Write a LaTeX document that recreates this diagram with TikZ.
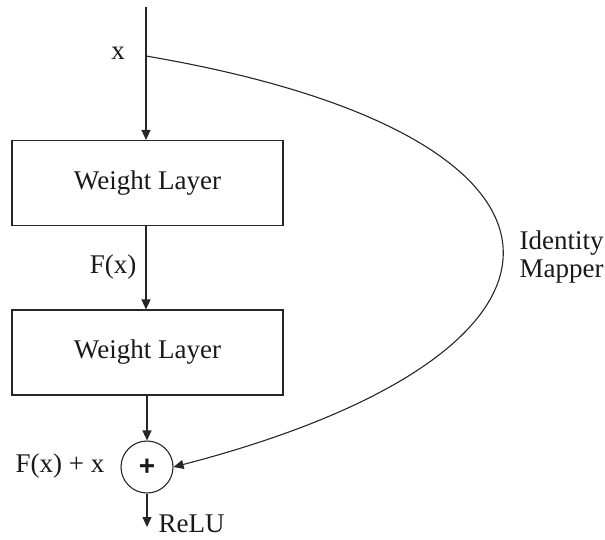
\documentclass[tikz,border=0pt]{standalone}
\usepackage{fontspec}
\setmainfont{Liberation Serif}
\newfontfamily\plusfont{Liberation Sans}
\usetikzlibrary{arrows.meta}
\begin{document}
\begin{tikzpicture}[x=1pt,y=-1pt,
  line width=1.1pt,
  every node/.style={font=\fontsize{27}{32}\selectfont, text=black!90},
  wire/.style={draw=black!85, -{Triangle[length=10pt,width=9pt]}},
  layer/.style={draw=black!85, minimum width=271pt, minimum height=85pt, inner sep=0pt},
  adder/.style={draw=black!85, circle, minimum size=52pt, inner sep=0pt},
  lbl/.style={inner sep=0pt}]
  \useasboundingbox (0,0) rectangle (605,539);

  % input and the two weight layers
  \coordinate (in) at (146,7);
  \coordinate (tap) at (146,56);
  \node[layer] (w1) at (147.5,183) {Weight Layer};
  \node[layer] (w2) at (147.5,352.5) {Weight Layer};
  \node[adder] (sum) at (147,467) {\plusfont\bfseries\fontsize{28}{30}\selectfont +};
  \coordinate (out) at (147,527);

  % labels
  \node[lbl] (xl) at (118,53) {x};
  \node[lbl] (fx) at (113,267) {F(x)};
  \node[lbl] (fxx) at (60,466) {F(x) + x};
  \node[lbl, anchor=west] (relu) at (158,524) {ReLU};
  \node[lbl, align=left, anchor=west] (idm) at (519,257) {Identity\\[-4pt]Mapper};

  % main path
  \draw[wire] (in) -- (w1.north -| in);
  \draw[wire] (w1.south -| in) -- (w2.north -| in);
  \draw[wire] (w2.south -| sum) -- (sum.north);
  \draw[wire] (sum.south) -- (out);

  % identity shortcut
  \draw[wire] (tap) .. controls (616,136) and (616,352) .. (sum.east);
\end{tikzpicture}
\end{document}
